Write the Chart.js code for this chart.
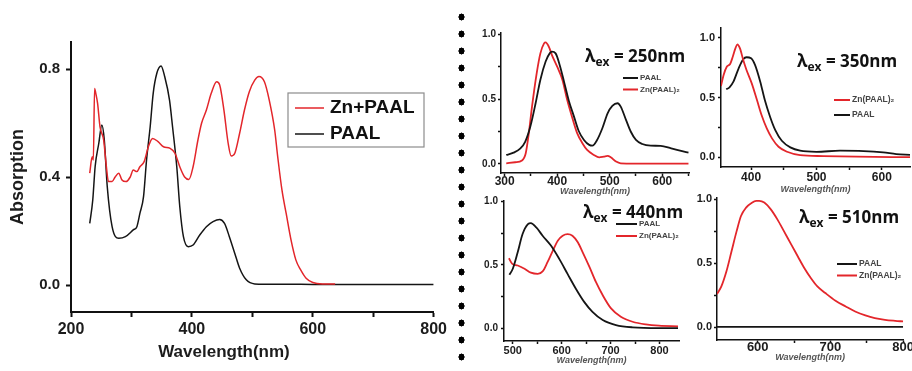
<!DOCTYPE html>
<html>
<head>
<meta charset="utf-8">
<script src="https://cdn.jsdelivr.net/npm/chart.js@4.4.0/dist/chart.umd.min.js"></script>
<style>
  body { margin: 0; background: #fff; width: 912px; height: 371px; overflow: hidden; position: relative; }
  canvas { position: absolute; }
  .sep { position: absolute; left: 458px; top: 13px; width: 7px; height: 350px;
         background: radial-gradient(ellipse 3.2px 3.7px at 3.5px 4px, #000 90%, transparent 100%) 0 0 / 7px 17px repeat-y; }
  .ex { position: absolute; font-family: "Open Sans", sans-serif; font-weight: 700; font-size: 17px;
        line-height: 24px; color: #111; white-space: nowrap; }
  .ex sub { font-size: 12px; vertical-align: -4px; line-height: 0; }
</style>
</head>
<body>
<canvas id="abs"></canvas>
<div class="sep"></div>
<canvas id="em250"></canvas>
<canvas id="em350"></canvas>
<canvas id="em440"></canvas>
<canvas id="em510"></canvas>
<div class="ex" style="left:585px;top:44px">λ<sub>ex</sub> = 250nm</div>
<div class="ex" style="left:797px;top:49px">λ<sub>ex</sub> = 350nm</div>
<div class="ex" style="left:583px;top:200px">λ<sub>ex</sub> = 440nm</div>
<div class="ex" style="left:799px;top:205px">λ<sub>ex</sub> = 510nm</div>
<script>
// absorption spectra (left panel)
const absPaalX = [231,236,240,246,251,255,260,268,279,290,303,309,314,320,325,331,336,342,349,355,363,368,375,380,386,394,402,413,424,435,446,454,462,471,479,490,504,520,560,600,700,800];
const absPaalY = [0.228,0.315,0.44,0.525,0.593,0.54,0.364,0.216,0.173,0.179,0.204,0.216,0.265,0.327,0.463,0.586,0.71,0.784,0.811,0.772,0.685,0.586,0.438,0.29,0.179,0.142,0.148,0.185,0.216,0.235,0.243,0.228,0.179,0.117,0.062,0.019,0.004,0.003,0.003,0.002,0.002,0.002];
const absZnX = [231,235,237,239,241,244,248,254,258,262,268,273,279,284,291,298,303,309,314,321,328,335,344,353,364,372,380,388,395,402,410,416,424,432,441,446,453,460,465,471,479,487,495,504,511,520,528,537,542,549,556,564,572,580,589,600,616,637];
const absZnY = [0.414,0.475,0.463,0.728,0.71,0.673,0.586,0.537,0.45,0.383,0.383,0.4,0.414,0.39,0.383,0.4,0.426,0.42,0.438,0.457,0.512,0.543,0.531,0.512,0.506,0.488,0.438,0.4,0.391,0.438,0.537,0.599,0.648,0.71,0.753,0.741,0.648,0.525,0.478,0.488,0.562,0.648,0.716,0.759,0.772,0.753,0.685,0.574,0.475,0.352,0.265,0.167,0.093,0.056,0.025,0.009,0.004,0.004];
const absXTicks = [200, 400, 600, 800];
const absXMinor = [300, 500, 700];
const absYTicks = [0, 0.4, 0.8];

// emission, excitation 250 nm
const em250PaalX = [303,317,330,339,349,359,368,378,386,390,397,405,413,422,432,441,451,461,467,476,486,496,505,515,521,531,540,550,562,578,597,617,636,650];
const em250PaalY = [0.069,0.087,0.12,0.17,0.29,0.47,0.65,0.79,0.855,0.866,0.853,0.76,0.635,0.49,0.365,0.254,0.185,0.147,0.141,0.185,0.275,0.39,0.447,0.468,0.442,0.34,0.25,0.185,0.154,0.141,0.139,0.12,0.1,0.087];
const em250ZnX = [303,320,333,340,346,352,361,368,375,378,384,390,400,410,419,429,438,448,457,470,480,489,496,502,512,521,547,650];
const em250ZnY = [0.005,0.013,0.026,0.08,0.237,0.44,0.7,0.853,0.93,0.938,0.905,0.84,0.75,0.648,0.494,0.352,0.237,0.16,0.108,0.069,0.051,0.057,0.062,0.051,0.018,0.005,0.003,0.003];
const em250XTicks = [300, 400, 500, 600];
const em250XMinor = [350, 450, 550, 650];

// emission, excitation 350 nm
const em350ZnX = [354,358,363,368,372,376,379,383,388,393,401,409,416,424,432,442,455,475,510,561,643];
const em350ZnY = [0.596,0.688,0.758,0.78,0.84,0.91,0.944,0.91,0.813,0.73,0.618,0.479,0.354,0.242,0.159,0.089,0.047,0.019,0.011,0.006,0.002];
const em350PaalX = [362,367,373,381,388,393,400,406,414,421,429,437,447,460,475,500,536,572,602,622,643];
const em350PaalY = [0.568,0.585,0.632,0.744,0.819,0.836,0.827,0.772,0.632,0.479,0.34,0.228,0.139,0.084,0.056,0.047,0.056,0.053,0.042,0.028,0.022];
const em350XTicks = [400, 500, 600];
const em350XMinor = [450, 550];

// emission, excitation 440 nm
const em440PaalX = [493,500,510,520,531,537,548,561,578,595,612,629,646,663,684,711,745,799,838];
const em440PaalY = [0.423,0.47,0.6,0.744,0.822,0.83,0.796,0.731,0.653,0.548,0.43,0.313,0.209,0.13,0.065,0.026,0.008,0.002,0.002];
const em440ZnX = [492,499,510,524,537,551,561,571,582,592,602,612,622,633,643,657,670,684,701,721,745,772,799,838];
const em440ZnY = [0.553,0.509,0.496,0.47,0.439,0.43,0.449,0.522,0.614,0.692,0.731,0.744,0.731,0.679,0.6,0.483,0.366,0.261,0.157,0.091,0.052,0.031,0.021,0.016];
const em440XTicks = [500, 600, 700, 800];
const em440XMinor = [550, 650, 750];

// emission, excitation 510 nm
const em510PaalX = [544, 660, 800];
const em510PaalY = [0.002, 0.002, 0.002];
const em510ZnX = [544,550,557,564,571,577,584,591,598,602,609,618,627,636,646,655,664,673,682,693,707,721,734,748,761,775,789,800];
const em510ZnY = [0.259,0.319,0.437,0.594,0.751,0.869,0.935,0.969,0.987,0.987,0.974,0.921,0.843,0.751,0.647,0.555,0.463,0.385,0.319,0.267,0.207,0.162,0.123,0.092,0.071,0.058,0.05,0.045];
const em510XTicks = [600, 700, 800];
const em510XMinor = [650, 750];

const emYTicks = [0, 0.5, 1.0];
const emYMinor = [0.25, 0.75];

const RED = '#e3262b';
const BLACK = '#151515';
const FAMILY = '"Liberation Sans", Arial, sans-serif';
Chart.defaults.font.family = FAMILY;

const pts = (xs, ys) => xs.map((x, i) => ({ x, y: ys[i] }));

// legend drawn at a fixed spot inside the plot, like the original figures
const boxLegend = {
  id: 'boxLegend',
  afterDraw(chart, args, o) {
    if (!o || o.x == null) return;
    const ctx = chart.ctx;
    ctx.save();
    if (o.box) {
      ctx.fillStyle = '#fff';
      ctx.strokeStyle = '#8c8c8c';
      ctx.lineWidth = 1.2;
      ctx.fillRect(o.box[0], o.box[1], o.box[2], o.box[3]);
      ctx.strokeRect(o.box[0], o.box[1], o.box[2], o.box[3]);
    }
    ctx.font = o.font;
    ctx.textBaseline = 'middle';
    chart.data.datasets.forEach((ds, i) => {
      const y = o.y + i * o.rowH;
      ctx.strokeStyle = ds.borderColor;
      ctx.lineWidth = o.lineW;
      ctx.beginPath();
      ctx.moveTo(o.x, y);
      ctx.lineTo(o.x + o.lineLen, y);
      ctx.stroke();
      ctx.fillStyle = o.color;
      ctx.fillText(ds.label, o.x + o.lineLen + o.gap, y);
    });
    ctx.restore();
  }
};

function axis(min, max, major, minor, fmt, s) {
  const all = major.concat(minor).sort((a, b) => a - b);
  return {
    type: 'linear', min, max,
    afterBuildTicks: sc => { sc.ticks = all.map(v => ({ value: v })); },
    afterFit: sc => { if (s.w != null) sc.width = s.w; if (s.h != null) sc.height = s.h; },
    ticks: {
      autoSkip: false, maxRotation: 0, color: '#1c1c1c', padding: s.pad,
      font: { size: s.size, weight: 'bold', lineHeight: 1 },
      callback: v => major.includes(v) ? fmt(v) : ''
    },
    grid: { drawOnChartArea: false, tickLength: s.tl, tickColor: '#111', tickWidth: s.bw },
    border: { color: '#111', width: s.bw },
    title: s.title || { display: false }
  };
}

const nmFmt = v => String(v);
const yFmt = v => v.toFixed(1);

// box = canvas rectangle on the page, area = plotting rectangle on the page
function panel(id, box, area, datasets, sc, legend, lw) {
  const cv = document.getElementById(id);
  cv.width = box[2] - box[0];
  cv.height = box[3] - box[1];
  cv.style.left = box[0] + 'px';
  cv.style.top = box[1] + 'px';
  sc.x.h = box[3] - area[3];
  sc.y.w = area[0] - box[0];
  return new Chart(cv, {
    type: 'line',
    data: {
      datasets: datasets.map(d => ({
        label: d.label, data: d.data, borderColor: d.color, borderWidth: lw,
        pointRadius: 0, fill: false, cubicInterpolationMode: 'monotone'
      }))
    },
    options: {
      responsive: false, animation: false, devicePixelRatio: 1,
      layout: { autoPadding: false, padding: { left: 0, bottom: 0, top: area[1] - box[1], right: box[2] - area[2] } },
      plugins: { legend: { display: false }, tooltip: { enabled: false }, boxLegend: legend },
      scales: {
        x: axis(sc.x.min, sc.x.max, sc.x.major, sc.x.minor, nmFmt, sc.x),
        y: axis(sc.y.min, sc.y.max, sc.y.major, sc.y.minor, yFmt, sc.y)
      }
    },
    plugins: [boxLegend]
  });
}

const smallTitle = pb => ({
  display: true, text: 'Wavelength(nm)', color: '#555',
  font: { size: 9, style: 'italic', weight: 'bold' }, padding: { top: 0, bottom: pb }
});

// left: absorption (the x title sits left of the axis centre in the original, trailing spaces shift it)
panel('abs', [0, 0, 452, 371], [71, 42, 435, 312],
  [{ label: 'Zn+PAAL', data: pts(absZnX, absZnY), color: RED },
   { label: 'PAAL', data: pts(absPaalX, absPaalY), color: BLACK }],
  {
    x: { min: 200, max: 800, major: absXTicks, minor: absXMinor, size: 16, tl: 5, pad: 5, bw: 2,
         title: { display: true, text: 'Wavelength(nm)' + '\u00a0'.repeat(12), color: '#1c1c1c', font: { size: 17, weight: 'bold' }, padding: { top: 0, bottom: 8 } } },
    y: { min: -0.1, max: 0.9, major: absYTicks, minor: [], size: 15, tl: 5, pad: 6, bw: 2,
         title: { display: true, text: 'Absorption', color: '#1c1c1c', font: { size: 18, weight: 'bold' }, padding: { top: 7, bottom: 0 } } }
  },
  { x: 295, y: 108, rowH: 26, lineLen: 29, gap: 6, lineW: 1.5, font: 'bold 19px ' + FAMILY, color: '#111', box: [288, 93, 136, 54] },
  1.5);

// λex = 250 nm
panel('em250', [464, 0, 691, 200], [501, 33, 689, 173],
  [{ label: 'PAAL', data: pts(em250PaalX, em250PaalY), color: BLACK },
   { label: 'Zn(PAAL)₂', data: pts(em250ZnX, em250ZnY), color: RED }],
  {
    x: { min: 293, max: 651, major: em250XTicks, minor: em250XMinor, size: 12, tl: 3, pad: 0, bw: 1.5, title: smallTitle(3) },
    y: { min: -0.07, max: 1.01, major: emYTicks, minor: emYMinor, size: 10, tl: 3, pad: 2, bw: 1.5 }
  },
  { x: 159, y: 78, rowH: 11.5, lineLen: 15, gap: 2, lineW: 2, font: 'bold 8px ' + FAMILY, color: '#444' },
  1.8);

// λex = 350 nm
panel('em350', [692, 0, 912, 200], [721, 28, 910, 167],
  [{ label: 'Zn(PAAL)₂', data: pts(em350ZnX, em350ZnY), color: RED },
   { label: 'PAAL', data: pts(em350PaalX, em350PaalY), color: BLACK }],
  {
    x: { min: 354, max: 643, major: em350XTicks, minor: em350XMinor, size: 12, tl: 3, pad: 2, bw: 1.5, title: smallTitle(5) },
    y: { min: -0.08, max: 1.08, major: emYTicks, minor: emYMinor, size: 11, tl: 3, pad: 3, bw: 1.5 }
  },
  { x: 142, y: 100, rowH: 15, lineLen: 16, gap: 2, lineW: 2, font: 'bold 8.5px ' + FAMILY, color: '#444' },
  1.8);

// λex = 440 nm
panel('em440', [464, 190, 691, 371], [504, 201, 679, 341],
  [{ label: 'PAAL', data: pts(em440PaalX, em440PaalY), color: BLACK },
   { label: 'Zn(PAAL)₂', data: pts(em440ZnX, em440ZnY), color: RED }],
  {
    x: { min: 482, max: 840, major: em440XTicks, minor: em440XMinor, size: 11, tl: 3, pad: 1, bw: 1.5, title: smallTitle(5) },
    y: { min: -0.1, max: 1.005, major: emYTicks, minor: emYMinor, size: 10, tl: 3, pad: 3, bw: 1.5 }
  },
  { x: 152, y: 34, rowH: 12, lineLen: 21, gap: 2, lineW: 2, font: 'bold 8px ' + FAMILY, color: '#444' },
  1.8);

// λex = 510 nm
panel('em510', [692, 190, 912, 371], [717, 198, 905, 340],
  [{ label: 'PAAL', data: pts(em510PaalX, em510PaalY), color: BLACK },
   { label: 'Zn(PAAL)₂', data: pts(em510ZnX, em510ZnY), color: RED }],
  {
    x: { min: 544, max: 800, major: em510XTicks, minor: em510XMinor, size: 13, tl: 3, pad: -2, bw: 1.5, title: smallTitle(8) },
    y: { min: -0.1, max: 1.01, major: emYTicks, minor: emYMinor, size: 11, tl: 3, pad: 2, bw: 1.5 }
  },
  { x: 145, y: 74, rowH: 11.5, lineLen: 20, gap: 2, lineW: 2, font: 'bold 8.5px ' + FAMILY, color: '#444' },
  1.8);
</script>
</body>
</html>
